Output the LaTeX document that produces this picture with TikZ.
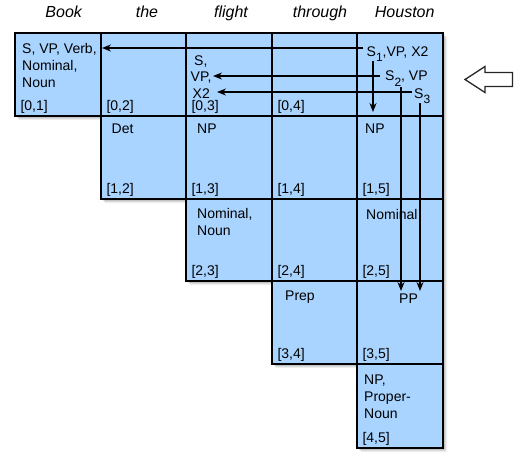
\documentclass[tikz,border=0pt]{standalone}
\usepackage{fontspec}
\setmainfont{Liberation Sans}
\usetikzlibrary{arrows.meta}
\definecolor{cellblue}{RGB}{168,212,255}
\newcommand\mysub[1]{\raisebox{-5.5pt}{\fontsize{12}{12}\selectfont #1}}
\begin{document}
\begin{tikzpicture}[x=1pt,y=-1pt,
  txt/.style={anchor=base west,inner sep=0pt,font=\fontsize{14}{17}\selectfont},
  hdr/.style={anchor=base,inner sep=0pt,font=\fontsize{16}{19}\selectfont\itshape},
  lbl/.style={txt},
  conn/.style={line width=1.7pt,-{Stealth[length=9pt,width=7pt,inset=3pt]}},
  cell/.style={fill=cellblue,draw=black,line width=1.9pt},
  bigarrow/.style={draw=black!85,fill=white,line width=1.3pt,line join=miter}]
\useasboundingbox (0,0) rectangle (521,459);
% headers
\node[hdr] (hBook) at (63.7,17.4) {Book};
\node[hdr] (hthe) at (147,17.4) {the};
\node[hdr] (hflight) at (231,17.4) {flight};
\node[hdr] (hthrough) at (320,17.4) {through};
\node[hdr] (hHouston) at (404.7,17.4) {Houston};
% shadow
\foreach \o/\op in {4/0.06,3/0.08,2/0.1,1/0.12}{
  \fill[black,opacity=\op,shift={(\o,\o)}] (15,33) -- (443,33) -- (443,448) -- (357,448) -- (357,364) -- (272,364) -- (272,281) -- (186,281) -- (186,199) -- (101,199) -- (101,116) -- (15,116) -- cycle;
}
% cells and labels
\foreach \r in {0,...,4}{
  \foreach \c in {\r,...,4}{
    \pgfmathsetmacro\xl{{15,101,186,272,357,443}[\c]}
    \pgfmathsetmacro\xr{{15,101,186,272,357,443}[\c+1]}
    \pgfmathsetmacro\yt{{33,116,199,281,364,448}[\r]}
    \pgfmathsetmacro\yb{{33,116,199,281,364,448}[\r+1]}
    \pgfmathtruncatemacro\cc{\c+1}
    \draw[cell] (\xl,\yt) rectangle (\xr,\yb);
    \pgfmathtruncatemacro\skiplbl{(\r==0)&&(\cc==5)}
    \ifnum\skiplbl=0
      \node[lbl] (l\r\cc) at (\xl+5.3,\yb-5.2) {[\r,\cc]};
    \fi
  }
}
% cell contents
\node[txt] (t01a) at (22,53.6) {S, VP, Verb,};
\node[txt] (t01b) at (22,70.3) {Nominal,};
\node[txt] (t01c) at (22,87) {Noun};
\node[txt] (t03a) at (194,65) {S,};
\node[txt] (t03b) at (190.5,81.5) {VP,};
\node[txt] (t03c) at (192.5,98) {X2};
\node[txt] (t05a) at (366.5,56) {S\mysub{1},VP, X2};
\node[txt] (t05b) at (385,80.5) {S\mysub{2}, VP};
\node[txt] (t05c) at (414,98) {S\mysub{3}};
\node[txt] (t12) at (111.5,133) {Det};
\node[txt] (t13) at (197,133) {NP};
\node[txt] (t15) at (365,133.3) {NP};
\node[txt] (t23a) at (197,218) {Nominal,};
\node[txt] (t23b) at (197,235) {Noun};
\node[txt] (t25) at (366,219) {Nominal};
\node[txt] (t34) at (285,300.5) {Prep};
\node[txt] (t35) at (399,303) {PP};
\node[txt] (t45a) at (364,384) {NP,};
\node[txt] (t45b) at (364,401) {Proper-};
\node[txt] (t45c) at (364,418) {Noun};
% connector ends
\coordinate (a1s) at (363,48);
\coordinate (a1e) at (102,48);
\coordinate (a2s) at (379.5,76);
\coordinate (a2e) at (213,76);
\coordinate (a3s) at (411.5,92);
\coordinate (a3e) at (217,92);
\coordinate (v1s) at (373,61);
\coordinate (v1e) at (373,112);
\coordinate (v2s) at (401,87);
\coordinate (v2e) at (401,291);
\coordinate (v3s) at (420,103);
\coordinate (v3e) at (420,291);
\draw[conn] (a1s) -- (a1e);
\draw[conn] (a2s) -- (a2e);
\draw[conn] (a3s) -- (a3e);
\draw[conn] (v1s) -- (v1e);
\draw[conn] (v2s) -- (v2e);
\draw[conn] (v3s) -- (v3e);
% hollow pointer arrow
\draw[bigarrow] (465,79.5) -- (485,66.5) -- (485,72.5) -- (512.5,72.5) -- (512.5,86.5) -- (485,86.5) -- (485,92.5) -- cycle;
\end{tikzpicture}
\end{document}
